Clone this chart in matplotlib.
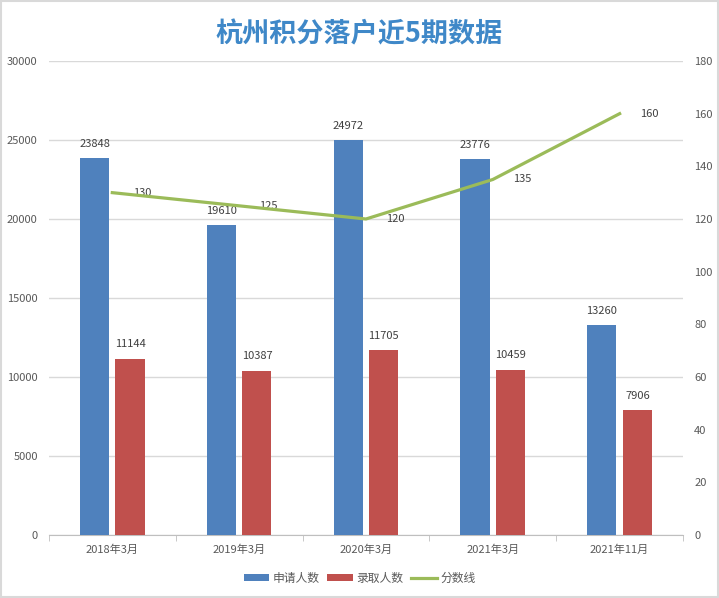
import numpy as np
import matplotlib.pyplot as plt
from matplotlib.patches import Rectangle

plt.rcParams['font.family'] = ['Noto Sans CJK SC', 'DejaVu Sans']

categories = ["2018年3月", "2019年3月", "2020年3月", "2021年3月", "2021年11月"]
applicants = [23848, 19610, 24972, 23776, 13260]
admitted = [11144, 10387, 11705, 10459, 7906]
scores = [130, 125, 120, 135, 160]


def main():
    fig = plt.figure(figsize=(7.19, 5.98), dpi=100)
    ax = fig.add_axes([0.068, 0.1054, 0.882, 0.7926])
    ax2 = ax.twinx()

    x = np.arange(len(categories))
    w = 0.23
    off = 0.14
    blue, red, green = "#4f81bd", "#c0504d", "#9bbb59"
    grey = "#595959"

    b1 = ax.bar(x - off, applicants, w, color=blue, label="申请人数", zorder=3)
    b2 = ax.bar(x + off, admitted, w, color=red, label="录取人数", zorder=3)
    for bars in (b1, b2):
        for r in bars:
            ax.text(r.get_x() + r.get_width() / 2, r.get_height() + 600,
                    f"{int(r.get_height())}", ha="center", va="bottom",
                    fontsize=8, color="#404040")

    ln, = ax2.plot(x, scores, color=green, linewidth=2.3, label="分数线", zorder=4)
    for xi, s in zip(x, scores):
        ax2.text(xi + 0.16, s, str(s), ha="left", va="center",
                 fontsize=8, color="#404040")

    ax.set_xlim(-0.5, len(categories) - 0.5)
    ax.set_ylim(0, 30000)
    ax.set_yticks(np.arange(0, 30001, 5000))
    ax2.set_ylim(0, 180)
    ax2.set_yticks(np.arange(0, 181, 20))

    ax.set_xticks(x)
    ax.set_xticklabels(categories, fontsize=8, color=grey)
    ax.set_xticks(np.arange(-0.5, len(categories)), minor=True)
    ax.tick_params(axis="x", which="major", length=0, pad=7)
    ax.tick_params(axis="x", which="minor", length=4, color="#bfbfbf")
    ax.tick_params(axis="y", length=0, labelsize=8, labelcolor=grey, pad=8)
    ax2.tick_params(axis="y", length=0, labelsize=8, labelcolor=grey, pad=8)

    ax.grid(axis="y", color="#d9d9d9", linewidth=1, zorder=0)
    ax.set_axisbelow(True)
    for a in (ax, ax2):
        for sp in ("top", "left", "right"):
            a.spines[sp].set_visible(False)
        a.spines["bottom"].set_color("#bfbfbf")
    ax2.spines["bottom"].set_visible(False)

    fig.text(0.5, 0.942, "杭州积分落户近5期数据", ha="center", va="center",
             fontsize=19.5, fontweight="bold", color="#3f88c8")

    fig.legend([b1, b2, ln], ["申请人数", "录取人数", "分数线"], loc="center",
               bbox_to_anchor=(0.5, 0.033), ncol=3, frameon=False, fontsize=8.5,
               handlelength=2.2, handleheight=0.6, columnspacing=0.6,
               handletextpad=0.3, labelcolor=grey)

    fig.patches.append(Rectangle((0.001, 0.001), 0.997, 0.997, transform=fig.transFigure,
                                 fill=False, edgecolor="#d9d9d9", linewidth=1.5))

    fig.savefig("out.png", dpi=100)


if __name__ == "__main__":
    main()
